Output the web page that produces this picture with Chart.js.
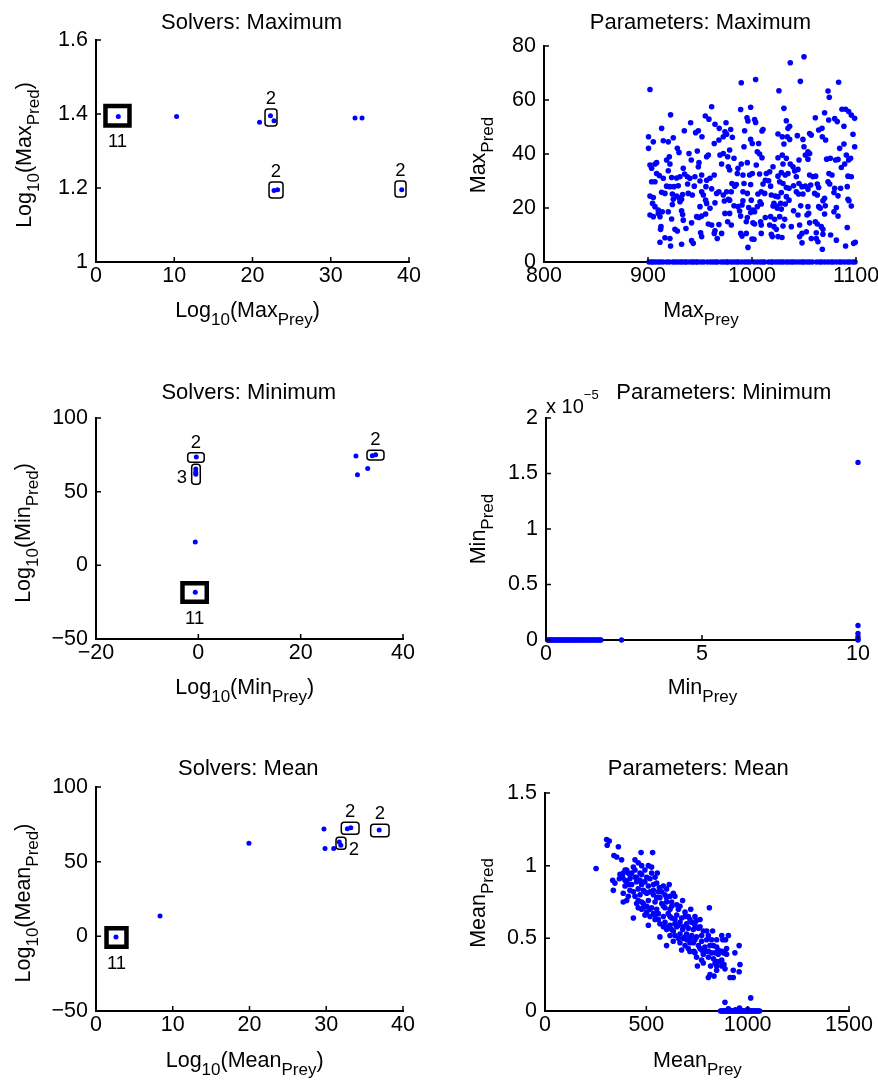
<!DOCTYPE html>
<html><head><meta charset="utf-8">
<script src="https://cdn.jsdelivr.net/npm/chart.js@4.4.1/dist/chart.umd.min.js"></script>
<style>
html,body{margin:0;padding:0;background:#fff;width:878px;height:1083px;overflow:hidden;}
body{position:relative;font-family:"Liberation Sans",Arial,Helvetica,sans-serif;color:#000;}
canvas{position:absolute;z-index:1;}
.lbl{position:absolute;white-space:nowrap;font-size:21.5px;line-height:1;z-index:2;}
.ttl{font-size:22px;}
.sub{position:relative;top:8px;font-size:17px;}
.sup{position:relative;top:-14px;font-size:13px;}
.exp{font-size:20px;}
</style></head><body>
<script>
// ---------------- DATA ----------------
// Solvers: Maximum (log10 of max prey / max predator)
const solMaxPrey = [2.85, 10.3, 20.9, 22.3, 22.75, 22.75, 23.2, 33.1, 34.0, 39.07];
const solMaxPred = [1.393, 1.393, 1.378, 1.395, 1.382, 1.193, 1.195, 1.389, 1.389, 1.195];
const solMaxBoxCount = [11, 2, 2, 2];
const solMaxBoxPrey = [[1.21, 4.28], [21.6, 23.13], [22.11, 23.9], [38.21, 39.62]];
const solMaxBoxPred = [[1.369, 1.4216], [1.3676, 1.4135], [1.173, 1.216], [1.176, 1.219]];

// Solvers: Minimum
const solMinPrey = [-0.4, -0.5, -0.5, -0.5, -0.6, -0.6, 30.8, 31.1, 33.1, 34.0, 34.65];
const solMinPred = [73.5, 65.4, 63.1, 61.8, 15.8, -18.3, 74.2, 61.5, 65.8, 74.4, 75.1];
const solMinBoxCount = [2, 3, 11, 2];
const solMinBoxPrey = [[-2.08, 1.15], [-1.30, 0.38], [-3.10, 1.65], [32.96, 36.28]];
const solMinBoxPred = [[69.9, 76.4], [55.0, 68.6], [-24.8, -12.2], [71.5, 78.1]];

// Solvers: Mean
const solMeanPrey = [2.6, 8.34, 19.93, 29.7, 29.84, 30.97, 31.7, 31.9, 32.75, 33.2, 36.9];
const solMeanPred = [-0.5, 13.6, 62.3, 71.9, 58.9, 58.9, 63.2, 61.0, 72.1, 72.7, 71.2];
const solMeanBoxCount = [11, 2, 2, 2];
const solMeanBoxPrey = [[1.37, 3.97], [31.27, 32.57], [31.96, 34.27], [35.79, 38.18]];
const solMeanBoxPred = [[-7.0, 5.4], [58.3, 66.3], [68.3, 76.4], [66.7, 75.0]];

// Parameters: Maximum  [MaxPrey, MaxPred]
const paramMax = [
[901.9,63.9],[921.7,54.5],[961.2,57.5],[955.1,54.1],[958.6,52.9],[941.0,51.6],[913.1,49.5],[934.9,48.6],[964.4,51.0],[975.0,51.6],
[968.5,49.5],[948.4,48.6],[945.8,47.9],[951.9,46.4],[900.5,46.4],[905.1,44.5],[914.7,44.9],[919.5,44.5],[924.3,46.0],[974.0,48.2],
[972.4,46.4],[975.6,47.3],[968.2,45.2],[963.7,43.9],[900.5,42.1],[928.2,42.1],[929.8,40.6],[939.4,40.2],[947.4,41.1],[958.0,39.6],
[956.4,39.0],[969.2,39.6],[972.4,40.2],[920.5,39.0],[917.9,37.8],[908.3,36.8],[901.9,35.9],[903.5,34.7],[906.7,36.3],[921.1,36.3],
[933.9,34.7],[941.6,37.8],[949.0,36.8],[948.4,35.3],[970.8,36.3],[977.2,35.3],[976.6,39.0],[908.3,32.8],[910.9,32.0],[919.5,33.8],
[914.7,31.0],[922.7,31.3],[927.5,31.1],[930.7,31.6],[935.2,32.6],[937.8,31.6],[940.3,31.0],[945.1,31.6],[951.6,32.2],[956.4,30.3],
[959.6,31.0],[963.7,32.2],[903.5,29.7],[906.7,29.7],[917.9,28.1],[921.1,27.9],[925.0,27.9],[929.1,28.2],[938.1,28.9],[944.5,28.1],
[950.0,30.0],[955.7,27.9],[961.2,27.1],[966.0,25.4],[968.2,26.0],[972.4,24.8],[975.6,26.0],[913.1,25.8],[916.3,25.4],[923.4,25.2],
[927.5,24.4],[929.8,23.8],[933.3,25.0],[938.7,25.4],[942.6,24.8],[951.6,26.0],[953.2,24.8],[901.9,24.4],[905.1,23.9],[924.3,23.2],
[930.7,22.3],[932.3,23.2],[955.4,22.9],[956.4,21.7],[904.4,21.7],[906.7,20.5],[909.9,19.2],[923.4,21.3],[950.0,20.5],[959.6,19.9],
[964.4,21.9],[973.4,22.6],[977.2,23.2],[901.9,17.4],[905.1,16.8],[909.9,18.0],[913.7,18.6],[919.5,18.6],[911.5,16.8],[932.3,19.0],
[933.3,17.6],[946.8,16.8],[949.0,16.5],[951.6,17.0],[955.4,17.8],[974.0,18.0],[922.7,15.9],[933.9,15.5],[941.9,14.5],[958.0,14.1],
[961.2,13.7],[968.2,13.9],[976.6,14.9],[912.5,13.1],[912.1,12.1],[925.9,12.1],[928.2,11.5],[936.5,12.4],[950.6,10.8],[964.4,11.6],
[963.7,10.6],[970.8,10.6],[921.1,8.7],[916.3,9.0],[911.5,7.3],[941.9,7.9],[943.5,6.9],[932.3,6.6],[921.7,5.9],[951.6,9.4],[966.6,8.7],
[1050.0,76.0],[1036.8,73.8],[989.7,66.4],[1003.5,67.6],[1046.5,66.9],[1083.3,66.6],[1025.9,63.4],[1073.1,63.3],[1074.3,61.0],
[989.1,56.5],[998.7,57.3],[1030.7,56.9],[1069.8,55.3],[1060.9,53.4],[1073.7,52.6],[1079.5,53.1],[1082.0,52.0],[1086.5,56.6],[1090.0,56.6],
[1092.9,55.7],[1095.5,54.4],[1098.7,53.2],[995.2,53.4],[996.1,52.2],[1002.5,52.8],[1003.5,51.7],[1033.0,52.3],[1036.2,50.3],[1034.6,49.5],
[1088.4,50.3],[1010.6,49.1],[1009.6,48.5],[992.9,48.6],[1025.0,47.4],[1029.1,46.4],[1033.9,46.4],[1036.2,45.4],[1043.6,46.8],[1049.0,45.4],
[1055.4,47.6],[1057.0,47.0],[1064.1,48.9],[1067.3,49.5],[1067.6,46.4],[1070.8,45.2],[1097.1,47.3],[979.5,49.1],[981.1,46.2],[998.7,45.4],
[1006.4,43.9],[1000.3,43.9],[992.3,42.7],[1030.7,43.7],[1050.0,42.7],[1053.8,40.8],[1051.3,39.6],[1055.4,40.2],[1084.3,42.1],[1088.4,43.7],
[1098.7,42.7],[978.5,41.5],[1005.1,40.8],[1007.3,40.0],[1009.6,38.6],[1025.0,38.6],[1029.1,39.6],[1033.0,38.4],[1045.2,37.8],[1053.8,38.1],
[1071.8,38.1],[1075.3,38.4],[1080.4,37.8],[1082.7,38.0],[1090.7,39.6],[1094.8,38.4],[982.7,38.4],[989.7,36.3],[995.5,36.8],[1004.1,35.9],
[1020.2,35.3],[1029.8,36.3],[1036.8,36.3],[1039.4,35.3],[1041.0,33.7],[1044.2,34.3],[978.5,34.1],[986.5,34.7],[985.9,32.8],[991.3,32.2],
[997.7,32.2],[1000.3,32.8],[1007.3,32.6],[1013.8,32.8],[1017.0,33.4],[1025.0,31.8],[1028.2,33.1],[1032.0,32.2],[1034.6,32.8],[1042.6,31.6],
[1055.4,32.2],[1058.6,31.6],[1061.2,31.8],[1074.0,32.8],[1076.9,32.2],[1085.9,35.0],[1089.1,36.3],[1092.9,37.8],[1095.5,31.6],[1092.3,31.8],
[980.7,29.1],[983.3,28.1],[984.9,28.7],[992.3,29.1],[998.7,28.7],[1010.6,28.9],[1012.8,30.3],[1016.0,30.1],[1017.9,28.1],[1026.6,29.7],
[1029.8,29.1],[1033.0,27.6],[1035.6,27.3],[1040.0,28.2],[1045.2,29.1],[1048.1,27.9],[1051.3,28.1],[1056.4,28.5],[1053.8,26.9],[1062.8,28.9],
[1064.1,27.6],[1073.1,29.7],[1074.7,28.9],[1079.5,27.3],[1085.2,27.3],[1091.6,27.9],[980.1,26.0],[991.3,26.0],[995.5,25.4],[1005.7,25.2],
[1008.9,26.0],[1012.2,25.4],[1018.6,24.8],[1022.4,24.4],[1025.0,24.2],[1028.2,25.7],[1033.0,24.2],[1042.6,26.0],[1044.8,25.2],[1049.0,25.2],
[1060.2,25.4],[1062.8,24.8],[1068.2,22.7],[1069.8,23.6],[1078.8,25.7],[1082.7,24.5],[1092.3,23.2],[1093.2,22.7],[978.5,22.9],[991.3,22.7],
[999.3,22.9],[1007.7,22.3],[1008.9,21.5],[1021.1,21.7],[1023.4,20.7],[1027.5,21.7],[1032.0,21.5],[1035.6,22.9],[982.7,20.8],[986.5,20.5],
[990.4,21.1],[996.8,20.2],[1000.9,19.2],[1002.5,18.6],[998.7,18.3],[1005.1,20.5],[1020.2,20.7],[1024.3,19.9],[1028.2,19.6],[1046.8,20.8],
[1053.8,20.5],[1065.7,19.9],[1070.5,20.8],[1081.1,20.2],[1095.5,20.7],[978.5,18.0],[988.1,18.9],[989.1,17.0],[995.5,16.5],[1000.9,14.5],
[1002.5,14.1],[1008.3,14.9],[1012.8,16.5],[1017.9,16.8],[1021.8,15.8],[1026.6,16.8],[1031.4,15.8],[1040.0,19.0],[1044.2,17.4],[1052.9,17.4],
[1054.5,18.0],[1064.1,20.5],[1069.8,17.8],[1078.8,18.6],[1082.7,17.0],[980.1,13.7],[994.5,14.9],[1008.9,13.7],[1017.0,13.7],[1021.1,13.1],
[1023.4,12.1],[1029.8,13.3],[1037.8,13.1],[1045.8,13.7],[1055.4,14.5],[1060.9,14.9],[1062.8,14.1],[1066.6,13.1],[1068.2,12.1],[1091.6,12.8],
[989.1,10.6],[994.5,10.6],[990.4,9.6],[1000.0,8.5],[1001.9,8.4],[1008.9,10.6],[1018.6,10.3],[1019.5,9.4],[1025.0,9.4],[1028.8,9.1],
[1045.8,9.4],[1048.1,10.6],[1052.2,11.2],[1057.0,8.7],[1061.8,10.8],[1063.4,7.5],[1068.2,10.3],[1075.6,10.0],[1081.1,8.1],[1090.0,5.9],
[1097.7,6.9],[1099.3,7.3],[996.1,5.4],[1048.1,7.1],[1067.6,4.7],[1061.8,8.7]
];
// Max prey of runs whose max predator is 0
const paramMaxPreyZeroPred = [901,903.5,905,907.5,910,912,914.5,918,920.5,924,926,928.5,931,933,935.5,937,940,942.5,944,946.5,
948,951,953.5,957,960,962.5,965,967,970.5,973,975.5,977,980,982.5,985,987,990,993,995.5,998,1002,1005,1008,1010.5,1012,1016,
1018.5,1020,1023,1025.5,1028,1030,1033,1035.5,1038,1040,1043,1046,1048.5,1050,1053,1055.5,1058,1062,1065,1067,1070,1073,1076,
1078,1081,1084,1086,1089,1092,1094,1097,1099];

// Parameters: Minimum  [MinPrey, MinPred]
const paramMin = [
[0.05,0],[0.08,0],[0.11,0],[0.15,0],[0.18,0],[0.22,0],[0.26,0],[0.29,0],[0.33,0],[0.37,0],[0.41,0],[0.44,0],[0.49,0],[0.52,0],
[0.56,0],[0.61,0],[0.64,0],[0.68,0],[0.73,0],[0.77,0],[0.8,0],[0.85,0],[0.88,0],[0.93,0],[0.97,0],[1.02,0],[1.06,0],[1.1,0],
[1.14,0],[1.19,0],[1.23,0],[1.27,0],[1.32,0],[1.36,0],[1.41,0],[1.45,0],[1.5,0],[1.54,0],[1.58,0],[1.63,0],[1.67,0],[1.72,0],
[1.76,0],[2.42,0],[10,0],[10,1.6e-5],[10,0.13e-5],[10,0.06e-5],[10,0.03e-5],[10,0.01e-5]
];

// Parameters: Mean  [MeanPrey, MeanPred]
const paramMean = [
[304,1.18],[317,1.17],[307,1.14],[362,1.13],[340,1.07],[354,1.06],[378,1.04],[474,1.09],[531,1.09],[252,0.98],
[444,1.04],[460,1.02],[436,0.99],[477,1.00],[510,1.00],[526,0.99],[403,0.97],[386,0.95],[370,0.94],[383,0.92],
[411,0.95],[444,0.97],[469,0.95],[493,0.97],[526,0.95],[554,0.95],[543,0.92],[334,0.90],[345,0.88],[337,0.83],
[367,0.91],[395,0.90],[419,0.91],[452,0.92],[428,0.87],[395,0.86],[411,0.87],[469,0.90],[493,0.89],[518,0.91],
[535,0.87],[460,0.84],[485,0.83],[510,0.86],[564,0.85],[584,0.86],[613,0.87],[600,0.84],[386,0.81],[411,0.79],
[386,0.75],[403,0.76],[444,0.79],[469,0.80],[502,0.81],[535,0.80],[559,0.82],[592,0.80],[617,0.79],[641,0.79],
[633,0.81],[679,0.76],[452,0.74],[477,0.75],[510,0.76],[543,0.75],[567,0.78],[600,0.75],[625,0.72],[436,0.64],
[477,0.70],[460,0.71],[485,0.71],[502,0.72],[526,0.71],[551,0.70],[584,0.72],[617,0.70],[658,0.70],[691,0.68],
[719,0.70],[811,0.71],[493,0.66],[518,0.65],[535,0.67],[559,0.67],[584,0.65],[617,0.65],[650,0.66],[674,0.64],
[707,0.65],[740,0.65],[765,0.63],[510,0.59],[543,0.63],[567,0.60],[592,0.61],[617,0.59],[641,0.60],[666,0.61],
[699,0.60],[724,0.61],[745,0.62],[567,0.51],[600,0.56],[625,0.56],[650,0.58],[679,0.56],[707,0.57],[732,0.56],
[757,0.57],[617,0.52],[641,0.52],[666,0.53],[691,0.51],[724,0.52],[748,0.51],[773,0.52],[798,0.55],[827,0.55],
[872,0.52],[905,0.52],[600,0.45],[633,0.48],[666,0.47],[691,0.45],[715,0.47],[740,0.49],[773,0.48],[798,0.49],
[822,0.49],[847,0.49],[877,0.49],[891,0.49],[674,0.42],[707,0.43],[735,0.41],[765,0.43],[789,0.44],[814,0.45],
[847,0.44],[872,0.41],[888,0.40],[896,0.39],[748,0.37],[781,0.39],[806,0.37],[831,0.36],[847,0.34],[872,0.35],
[883,0.32],[752,0.31],[781,0.33],[817,0.31],[847,0.31],[888,0.29],[814,0.25],[806,0.23],[834,0.24],
[395,0.97],[419,0.94],[452,0.89],[477,0.87],[493,0.82],[518,0.82],[535,0.83],[551,0.78],[576,0.74],[592,0.71],
[608,0.67],[625,0.64],[641,0.63],[658,0.59],[682,0.58],[699,0.53],[715,0.50],[732,0.47],[757,0.45],[773,0.42],
[789,0.41],[806,0.41],[822,0.40],[839,0.40],[855,0.39],[863,0.34],[839,0.33],[773,0.35],[740,0.40],[715,0.41],
[699,0.49],[682,0.50],[658,0.50],[633,0.55],[608,0.58],[584,0.58],[559,0.63],[543,0.66],[518,0.70],[502,0.68],
[485,0.74],[460,0.76],[436,0.82],[419,0.83],[403,0.89],[428,0.95],[444,0.92],[477,0.94],[502,0.92],[551,0.88],
[576,0.82],[600,0.78],[625,0.75],[650,0.73],[666,0.72],[691,0.65],[715,0.63],[740,0.59],[765,0.58],[781,0.55],
[806,0.52],[831,0.45],[855,0.42],[880,0.40],[847,0.28],[872,0.31],[896,0.43],
[958,0.45],[937,0.40],[962,0.32],[929,0.28],[913,0.23],[929,0.23],[958,0.27],
[888,0.06],[1015,0.09],[905,0.015],[960,0.02],[1000,0.012],[940,0.008]
];
// Mean prey of runs whose mean predator is 0
const paramMeanPreyZeroPred = [866,871,876,879,884,889,893,897,902,906,911,915,919,924,928,933,937,941,946,951,955,959,
964,968,973,977,981,986,991,995,1000,1004,1009,1013,1018,1022,1027,1031,1036,1041,1045,1050,1054,1059];

// Tick values
const solMaxXTicks = [0, 10, 20, 30, 40],      solMaxYTicks = [1, 1.2, 1.4, 1.6];
const parMaxXTicks = [800, 900, 1000, 1100],   parMaxYTicks = [0, 20, 40, 60, 80];
const solMinXTicks = [-20, 0, 20, 40],         solMinYTicks = [-50, 0, 50, 100];
const parMinXTicks = [0, 5, 10],               parMinYTicks = [0, 0.5e-5, 1e-5, 1.5e-5, 2e-5];
const solMeanXTicks = [0, 10, 20, 30, 40],     solMeanYTicks = [-50, 0, 50, 100];
const parMeanXTicks = [0, 500, 1000, 1500],    parMeanYTicks = [0, 0.5, 1, 1.5];

// Text
const panelTitles = ['Solvers: Maximum', 'Parameters: Maximum', 'Solvers: Minimum', 'Parameters: Minimum', 'Solvers: Mean', 'Parameters: Mean'];
const xLabels = ['Log<span class="sub">10</span>(Max<span class="sub">Prey</span>)', 'Max<span class="sub">Prey</span>',
  'Log<span class="sub">10</span>(Min<span class="sub">Prey</span>)', 'Min<span class="sub">Prey</span>',
  'Log<span class="sub">10</span>(Mean<span class="sub">Prey</span>)', 'Mean<span class="sub">Prey</span>'];
const yLabels = ['Log<span class="sub">10</span>(Max<span class="sub">Pred</span>)', 'Max<span class="sub">Pred</span>',
  'Log<span class="sub">10</span>(Min<span class="sub">Pred</span>)', 'Min<span class="sub">Pred</span>',
  'Log<span class="sub">10</span>(Mean<span class="sub">Pred</span>)', 'Mean<span class="sub">Pred</span>'];

// ---------------- DRAWING ----------------
const FONT = '"Liberation Sans", Arial, Helvetica, sans-serif';
Chart.defaults.font.family = FONT;
const BLUE = '#0000ff';

function fmt(v) { const r = Math.round(v * 1e6) / 1e6; return String(r).replace('-', '\u2212'); }

const inwardTicks = {
  id: 'inwardTicks',
  afterDraw(chart) {
    const {ctx, chartArea: a, scales: {x, y}} = chart;
    ctx.save(); ctx.strokeStyle = '#000'; ctx.lineWidth = 1.5; ctx.beginPath();
    x.ticks.forEach(t => { const p = x.getPixelForValue(t.value); ctx.moveTo(p, a.bottom); ctx.lineTo(p, a.bottom - 5); });
    y.ticks.forEach(t => { const p = y.getPixelForValue(t.value); ctx.moveTo(a.left, p); ctx.lineTo(a.left + 5, p); });
    ctx.stroke(); ctx.restore();
  }
};

const clusterBoxes = {
  id: 'clusterBoxes',
  afterDatasetsDraw(chart, args, opts) {
    if (!opts || !opts.count) return;
    const {ctx, scales: {x, y}} = chart;
    const size = 18.5, digitH = 0.716 * size;
    ctx.save();
    ctx.font = size + 'px ' + FONT; ctx.fillStyle = '#000'; ctx.strokeStyle = '#000';
    opts.count.forEach((n, i) => {
      const x0 = x.getPixelForValue(opts.prey[i][0]), x1 = x.getPixelForValue(opts.prey[i][1]);
      const y0 = y.getPixelForValue(opts.pred[i][1]), y1 = y.getPixelForValue(opts.pred[i][0]);
      const heavy = n >= 10, lw = heavy ? 4.5 : 1.5, half = lw / 2;
      ctx.lineWidth = lw; ctx.beginPath();
      if (heavy) ctx.rect(x0, y0, x1 - x0, y1 - y0); else ctx.roundRect(x0, y0, x1 - x0, y1 - y0, 3);
      ctx.stroke();
      const cx = (x0 + x1) / 2, cy = (y0 + y1) / 2, side = opts.sides[i];
      ctx.textBaseline = 'alphabetic';
      if (side === 'above') { ctx.textAlign = 'center'; ctx.fillText(String(n), cx, y0 - half - 4.5); }
      else if (side === 'below') { ctx.textAlign = 'center'; ctx.fillText(String(n), cx, y1 + half + 6.5 + digitH); }
      else if (side === 'left') { ctx.textAlign = 'right'; ctx.fillText(String(n), x0 - half - 4, cy + digitH / 2 + 2); }
      else { ctx.textAlign = 'left'; ctx.fillText(String(n), x1 + half + 2, y1 + 6); }
    });
    ctx.restore();
  }
};

function axis(min, max, ticks, isX, fit, scaleDiv) {
  return {
    type: 'linear', position: isX ? 'bottom' : 'left', min, max,
    afterBuildTicks: s => { s.ticks = ticks.map(v => ({value: v})); },
    afterFit: s => { if (isX) s.height = fit; else s.width = fit; },
    grid: {display: false, drawTicks: false},
    border: {display: true, color: '#000', width: 2},
    ticks: {autoSkip: false, maxRotation: 0, minRotation: 0, padding: isX ? 1 : 8, color: '#000',
      font: {family: FONT, size: 21.5}, callback: v => fmt(scaleDiv ? v / scaleDiv : v)}
  };
}

function makePanel(p, points, xr, yr, xt, yt, boxes, yDiv, radius) {
  const L = 95, T = 30, R = 32, B = 40;
  const W = (p.r - p.l) + L + R, H = (p.b - p.t) + T + B;
  const cv = document.createElement('canvas');
  cv.width = W; cv.height = H;
  cv.style.left = (p.l - L) + 'px'; cv.style.top = (p.t - T) + 'px';
  cv.style.width = W + 'px'; cv.style.height = H + 'px';
  document.body.appendChild(cv);
  new Chart(cv, {
    type: 'scatter',
    data: {datasets: [{data: points, pointRadius: radius, pointHoverRadius: radius, pointBorderWidth: 0,
      pointBackgroundColor: BLUE, backgroundColor: BLUE, borderColor: BLUE, showLine: false, clip: false}]},
    options: {
      responsive: false, animation: false, events: [],
      layout: {padding: {left: 0, top: T, right: R, bottom: 0}},
      plugins: {legend: {display: false}, tooltip: {enabled: false}, title: {display: false}, clusterBoxes: boxes || {}},
      scales: {x: axis(xr[0], xr[1], xt, true, B), y: axis(yr[0], yr[1], yt, false, L, yDiv)}
    },
    plugins: [inwardTicks, clusterBoxes]
  });
}

const zip = (a, b) => a.map((v, i) => ({x: v, y: b[i]}));
const pairs = arr => arr.map(d => ({x: d[0], y: d[1]}));
const atZero = arr => arr.map(v => ({x: v, y: 0}));

// plot rectangles (page pixels)
const rects = [
  {l: 96, t: 40, r: 409, b: 262}, {l: 544, t: 46, r: 856, b: 262},
  {l: 96, t: 418, r: 403, b: 639}, {l: 546, t: 418, r: 858, b: 640},
  {l: 96, t: 787, r: 403, b: 1011}, {l: 545, t: 793, r: 849, b: 1011}
];

makePanel(rects[0], zip(solMaxPrey, solMaxPred), [0, 40], [1, 1.6], solMaxXTicks, solMaxYTicks,
  {count: solMaxBoxCount, prey: solMaxBoxPrey, pred: solMaxBoxPred, sides: ['below', 'above', 'above', 'above']}, null, 2.5);
makePanel(rects[1], pairs(paramMax).concat(atZero(paramMaxPreyZeroPred)), [800, 1100], [0, 80], parMaxXTicks, parMaxYTicks, null, null, 2.8);
makePanel(rects[2], zip(solMinPrey, solMinPred), [-20, 40], [-50, 100], solMinXTicks, solMinYTicks,
  {count: solMinBoxCount, prey: solMinBoxPrey, pred: solMinBoxPred, sides: ['above', 'left', 'below', 'above']}, null, 2.5);
makePanel(rects[3], pairs(paramMin), [0, 10], [0, 2e-5], parMinXTicks, parMinYTicks, null, 1e-5, 2.7);
makePanel(rects[4], zip(solMeanPrey, solMeanPred), [0, 40], [-50, 100], solMeanXTicks, solMeanYTicks,
  {count: solMeanBoxCount, prey: solMeanBoxPrey, pred: solMeanBoxPred, sides: ['below', 'right', 'above', 'above']}, null, 2.5);
makePanel(rects[5], pairs(paramMean).concat(atZero(paramMeanPreyZeroPred)), [0, 1500], [0, 1.5], parMeanXTicks, parMeanYTicks, null, null, 2.8);

// ---------------- TEXT LABELS ----------------
function addLabel(html, cls, css) {
  const d = document.createElement('div');
  d.className = 'lbl ' + (cls || '');
  d.innerHTML = html;
  Object.assign(d.style, css);
  document.body.appendChild(d);
  return d;
}
const titlePos = [[251.5, 10.7], [700.5, 10.7], [248.8, 380.7], [723.8, 380.7], [248.3, 757.4], [698.3, 757.4]];
const xLabPos = [[247.5, 300.1], [701, 300.1], [244.7, 676.8], [702.5, 676.8], [244.7, 1050.1], [697.5, 1050.1]];
const yLabPos = [[24.5, 155], [479.2, 155], [24.2, 532.5], [479.2, 529], [24.2, 902.5], [479.2, 903]];
panelTitles.forEach((t, i) => addLabel(t, 'ttl', {left: titlePos[i][0] + 'px', top: titlePos[i][1] + 'px', transform: 'translateX(-50%)'}));
xLabels.forEach((t, i) => addLabel(t, '', {left: xLabPos[i][0] + 'px', top: xLabPos[i][1] + 'px', transform: 'translateX(-50%)'}));
yLabels.forEach((t, i) => addLabel(t, '', {left: yLabPos[i][0] + 'px', top: yLabPos[i][1] + 'px', transform: 'translate(-50%,-50%) rotate(-90deg)'}));
addLabel('x 10<span class="sup">\u22125</span>', 'exp', {left: '546px', top: '396.4px'});
</script>
</body></html>
